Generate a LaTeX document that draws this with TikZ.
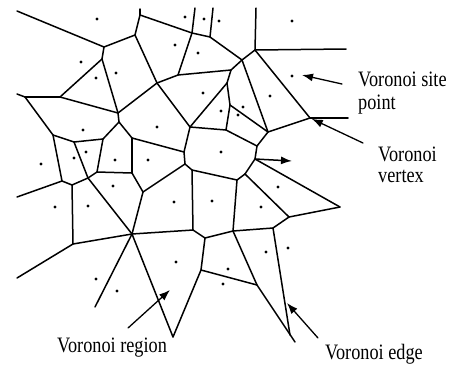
\documentclass[tikz,border=0pt]{standalone}
\usepackage{fontspec}
\setmainfont{Liberation Serif}
\usepackage{tikz}
\usetikzlibrary{%
	arrows.meta,% wg. Latex[...]
	positioning%
}
\newcommand{\vtext}[1]{\scalebox{0.83}[1]{#1}}

\begin{document}
\begin{tikzpicture}[
>={Latex[length=11pt,width=8pt]},
x=1pt,y=-1pt,
line join=round,line cap=round,
edge/.style={draw,line width=1.5pt},
site/.style={circle,fill,inner sep=0pt,minimum size=3.4pt},
pointer/.style={->,line width=1.3pt},
caption/.style={anchor=base west,inner sep=0pt,font=\fontsize{22}{24}\selectfont}
]
\useasboundingbox (0,0) rectangle (454,365);

% Voronoi vertices
\foreach \n/\x/\y in {
  1/104/47, 2/135/35, 3/140/15, 4/60/97, 5/102/59, 6/118/113, 7/25/97,
  8/157/83, 9/192/33, 10/210/37, 11/242/60, 12/255/50, 13/310/118,
  14/231/70, 15/178/75, 16/190/127, 17/230/105, 18/227/83, 19/185/164,
  20/53/135, 21/74/142, 22/103/139, 23/119/122, 24/132/138, 25/132/173,
  26/143/192, 27/132/234, 28/97/172, 29/88/178, 30/62/181, 31/72/185,
  32/73/244, 33/226/130, 34/257/146, 35/268/132, 36/255/159, 37/340/207,
  38/289/217, 39/273/228, 40/245/174, 41/237/180, 42/192/170, 43/184/152,
  44/193/230, 45/233/231, 46/205/238, 47/201/270, 48/173/337, 49/257/285}
  \coordinate (v\n) at (\x,\y);

% open ends
\foreach \n/\x/\y in {
  1/17/11, 2/140/9, 3/195/8, 4/213/8, 5/256/8, 6/346/49, 7/348/118,
  8/292/161, 10/17/94, 11/17/197, 12/17/278, 13/95/307, 14/295/342,
  15/290/335}
  \coordinate (e\n) at (\x,\y);

% Voronoi edges
\foreach \a/\b in {
  e1/v1, v1/v2, v2/v3, v3/e2, v3/v9, v9/e3, v9/v10, v10/e4, v10/v11,
  v11/v12, v12/e5, v12/e6, v12/v13, v13/e7, v13/v35, v11/v35, v11/v14,
  v14/v15, v15/v9, v15/v8, v8/v2, v8/v6, v8/v16, v14/v18, v18/v16,
  v18/v17, v17/v35, v17/v33, v16/v33, v33/v34, v34/v35, v34/v36,
  v36/v37, v36/v40, v40/v41, v40/v38, v37/v38, v38/v39, v39/e15,
  v39/v45, v41/v42, v41/v45, v42/v19, v19/v43, v43/v16, v43/v24,
  v19/v26, v42/v44, v44/v46, v46/v45, v46/v47, v45/v49, v47/v49,
  v49/e14, v47/v48, v27/v48, v27/v44, v27/e13, v27/v32, v32/e12,
  v32/v31, v27/v29, v27/v26, v26/v25, v25/v24, v25/v28, v28/v22,
  v28/v29, v29/v21, v29/v31, v31/v30, v30/e11, v30/v20, v20/v21,
  v20/v7, v7/e10, v7/v4, v4/v5, v5/v1, v5/v6, v4/v6, v6/v23, v23/v22,
  v23/v24, v21/v22}
  \draw[edge] (\a) -- (\b);
\draw[edge,->] (v36) -- (e8);

% site points
\foreach \x/\y [count=\i] in {
  97/19, 81/62, 96/78, 116/73, 175/45, 157/127, 83/130, 185/17, 204/19,
  219/21, 198/53, 292/21, 292/76, 203/93, 270/96, 221/111, 243/107,
  238/115, 86/152, 74/158, 41/164, 115/160, 148/160, 113/186, 88/206,
  55/207, 174/202, 221/152, 212/201, 278/187, 261/207, 96/279, 117/291,
  176/262, 223/284, 266/252, 288/248, 228/269}
  \node[site] (s\i) at (\x,\y) {};

% captions
\node[caption] (site label)   at (358,86)  {\vtext{Voronoi site}};
\node[caption] (site label2)  at (358,109) {\vtext{point}};
\node[caption] (vertex label) at (378,161) {\vtext{Voronoi}};
\node[caption] (vertex label2) at (378,182) {\vtext{vertex}};
\node[caption] (region label) at (57,352)  {\vtext{Voronoi region}};
\node[caption] (edge label)   at (325,359) {\vtext{Voronoi edge}};

% pointers
\coordinate (site tail)   at (342,84);
\coordinate (site tip)    at (302,75);
\coordinate (vertex tail) at (363,143);
\coordinate (region tail) at (128,328);
\coordinate (region tip)  at (170,290);
\coordinate (edge tail)   at (318,338);
\coordinate (edge tip)    at (287,303);
\draw[pointer] (site tail) -- (site tip);
\draw[pointer,shorten >=2pt] (vertex tail) -- (v13);
\draw[pointer] (region tail) -- (region tip);
\draw[pointer] (edge tail) -- (edge tip);
\end{tikzpicture}
\end{document}
